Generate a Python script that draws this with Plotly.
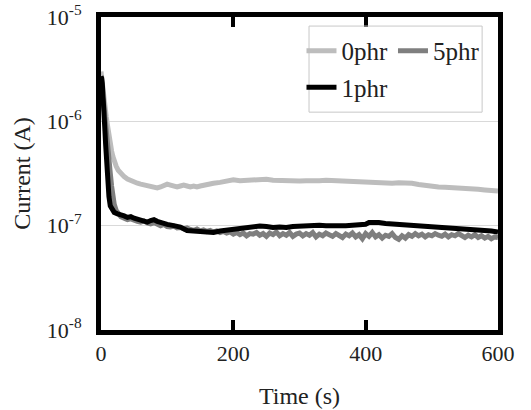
import plotly.graph_objects as go

# time axis (s)
t_0phr = [0, 1, 2, 3, 4, 5, 6, 8, 10, 12, 14, 16, 18, 20, 23, 26, 30, 35, 40, 45, 50, 55, 60, 65, 70, 75,
          80, 85, 90, 95, 100, 105, 110, 115, 120, 125, 130, 135, 140, 145, 150, 160, 170, 180, 190, 200,
          210, 220, 230, 240, 250, 260, 270, 280, 290, 300, 310, 320, 330, 340, 350, 360, 370, 380, 390,
          400, 410, 420, 430, 440, 450, 460, 470, 480, 490, 500, 510, 520, 530, 540, 550, 560, 570, 580,
          590, 600]
i_0phr = [3.0e-6, 2.6e-6, 2.1e-6, 1.8e-6, 1.6e-6, 1.45e-6, 1.3e-6, 1.1e-6, 9.0e-7, 7.0e-7, 6.0e-7, 5.2e-7,
          4.6e-7, 4.1e-7, 3.7e-7, 3.4e-7, 3.15e-7, 2.95e-7, 2.8e-7, 2.7e-7, 2.62e-7, 2.55e-7, 2.5e-7, 2.45e-7,
          2.4e-7, 2.35e-7, 2.35e-7, 2.3e-7, 2.35e-7, 2.4e-7, 2.5e-7, 2.45e-7, 2.4e-7, 2.35e-7, 2.4e-7,
          2.45e-7, 2.4e-7, 2.35e-7, 2.4e-7, 2.35e-7, 2.4e-7, 2.5e-7, 2.55e-7, 2.6e-7, 2.7e-7, 2.75e-7,
          2.7e-7, 2.72e-7, 2.75e-7, 2.7e-7, 2.78e-7, 2.72e-7, 2.7e-7, 2.72e-7, 2.7e-7, 2.68e-7, 2.7e-7,
          2.68e-7, 2.7e-7, 2.72e-7, 2.7e-7, 2.66e-7, 2.62e-7, 2.6e-7, 2.62e-7, 2.6e-7, 2.58e-7, 2.55e-7,
          2.52e-7, 2.55e-7, 2.58e-7, 2.6e-7, 2.55e-7, 2.48e-7, 2.42e-7, 2.38e-7, 2.35e-7, 2.33e-7, 2.32e-7,
          2.3e-7, 2.28e-7, 2.25e-7, 2.23e-7, 2.2e-7, 2.18e-7, 2.15e-7]

t_1phr = [0, 1, 2, 3, 4, 5, 6, 7, 8, 9, 10, 12, 14, 16, 18, 20, 25, 30, 35, 40, 45, 50, 55, 60, 65, 70, 75,
          80, 85, 90, 95, 100, 110, 120, 130, 140, 150, 160, 170, 180, 190, 200, 210, 220, 230, 240, 250,
          260, 270, 280, 290, 300, 310, 320, 330, 340, 350, 360, 370, 380, 390, 400, 405, 410, 420, 430,
          440, 450, 460, 470, 480, 490, 500, 510, 520, 530, 540, 550, 560, 570, 580, 590, 600]
i_1phr = [2.7e-6, 2.6e-6, 2.3e-6, 1.9e-6, 1.5e-6, 1.1e-6, 8e-7, 6e-7, 4.5e-7, 3.5e-7, 2.8e-7, 1.9e-7,
          1.55e-7, 1.45e-7, 1.38e-7, 1.34e-7, 1.3e-7, 1.28e-7, 1.24e-7, 1.2e-7, 1.22e-7, 1.18e-7, 1.15e-7,
          1.12e-7, 1.1e-7, 1.08e-7, 1.12e-7, 1.14e-7, 1.1e-7, 1.07e-7, 1.04e-7, 1.03e-7, 1.0e-7, 9.7e-8,
          9.0e-8, 8.8e-8, 8.8e-8, 8.7e-8, 8.6e-8, 8.9e-8, 9.1e-8, 9.2e-8, 9.3e-8, 9.5e-8, 9.8e-8, 9.9e-8,
          9.8e-8, 9.6e-8, 9.7e-8, 9.6e-8, 9.8e-8, 9.9e-8, 1.0e-7, 1.0e-7, 1.01e-7, 1.0e-7, 9.9e-8, 1.0e-7,
          1.0e-7, 1.01e-7, 1.02e-7, 1.03e-7, 1.07e-7, 1.08e-7, 1.07e-7, 1.05e-7, 1.04e-7, 1.03e-7, 1.03e-7,
          1.0e-7, 9.9e-8, 9.8e-8, 9.7e-8, 9.6e-8, 9.5e-8, 9.5e-8, 9.4e-8, 9.3e-8, 9.3e-8, 9.1e-8, 9.0e-8,
          8.9e-8, 8.7e-8]

t_5phr = [0, 2, 4, 6, 8, 10, 12, 14, 16, 18, 20, 23, 26, 30] + list(range(35, 601, 5))
i_5phr_e7 = [20.0, 18.0, 15.0, 11.0, 7.5, 5.5, 4.3, 3.2, 2.4, 1.9, 1.6, 1.4, 1.3, 1.22,
             1.18, 1.14, 1.16, 1.12, 1.10, 1.08, 1.11, 1.06, 1.04, 1.07,
             1.02, 1.00, 1.03, 0.98, 0.97, 0.99, 0.95, 0.96, 0.93, 0.95,
             0.92, 0.90, 0.93, 0.89, 0.91, 0.88, 0.90, 0.87, 0.89, 0.86,
             0.88, 0.85, 0.87, 0.83, 0.86, 0.82, 0.85, 0.80, 0.84, 0.83,
             0.86, 0.81, 0.84, 0.79, 0.85, 0.82, 0.87, 0.80, 0.84, 0.81,
             0.86, 0.79, 0.83, 0.85, 0.80, 0.84, 0.81, 0.86, 0.78, 0.83,
             0.80, 0.85, 0.82, 0.79, 0.84, 0.81, 0.77, 0.83, 0.80, 0.85,
             0.78, 0.82, 0.75, 0.84, 0.79, 0.86, 0.78, 0.82, 0.76, 0.81,
             0.79, 0.84, 0.77, 0.74, 0.80, 0.76, 0.82, 0.79, 0.84, 0.80,
             0.83, 0.78, 0.82, 0.80, 0.84, 0.81, 0.79, 0.83, 0.78, 0.82,
             0.80, 0.84, 0.79, 0.77, 0.81, 0.78, 0.82, 0.77, 0.80, 0.76,
             0.79, 0.75, 0.78, 0.77]
i_5phr = [v * 1e-7 for v in i_5phr_e7]

y_ticks = [1e-8, 1e-7, 1e-6, 1e-5]
y_labels = ["10<sup>-8</sup>", "10<sup>-7</sup>", "10<sup>-6</sup>", "10<sup>-5</sup>"]
x_ticks = [0, 200, 400, 600]

font = "Times New Roman, Liberation Serif, serif"
txt = "#222222"
title_font = dict(family=font, size=24, color=txt)

fig = go.Figure()
fig.add_trace(go.Scatter(x=t_0phr, y=i_0phr, mode="lines", name="0phr", legend="legend",
                         line=dict(color="#bdbdbd", width=5)))
fig.add_trace(go.Scatter(x=t_5phr, y=i_5phr, mode="lines", name="5phr", legend="legend",
                         line=dict(color="#7f7f7f", width=5)))
fig.add_trace(go.Scatter(x=t_1phr, y=i_1phr, mode="lines", name="1phr", legend="legend2",
                         line=dict(color="#000000", width=5)))

leg = dict(orientation="h", xanchor="left", yanchor="top", bgcolor="rgba(0,0,0,0)",
           borderwidth=0, font=dict(family=font, size=25, color=txt), itemwidth=30)

fig.update_layout(
    template="none",
    width=531, height=410,
    margin=dict(l=101, r=33, t=17, b=80),
    paper_bgcolor="white", plot_bgcolor="white",
    font=dict(family=font, size=22, color=txt),
    showlegend=True,
    legend=dict(leg, x=0.505, y=0.965),
    legend2=dict(leg, x=0.505, y=0.848),
    shapes=[dict(type="rect", xref="paper", yref="paper", x0=0.524, x1=0.96, y0=0.696, y1=0.971,
                 line=dict(color="#c8c8c8", width=1), fillcolor="rgba(0,0,0,0)")],
)
fig.update_xaxes(range=[0, 600], tickvals=x_ticks, showgrid=False, zeroline=False, automargin=False,
                 showline=True, linecolor="black", linewidth=5, mirror="allticks",
                 ticks="inside", ticklen=10, tickwidth=4, tickcolor="black",
                 tickfont=dict(family=font, size=22, color=txt),
                 title=dict(text="Time (s)", standoff=23, font=title_font))
fig.update_yaxes(type="log", range=[-8, -5], tickvals=y_ticks, ticktext=y_labels, automargin=False,
                 showgrid=True, gridcolor="#d9d9d9", gridwidth=1, zeroline=False,
                 showline=True, linecolor="black", linewidth=5, mirror=True,
                 ticks="", ticklabelstandoff=10,
                 tickfont=dict(family=font, size=22, color=txt),
                 title=dict(text="Current (A)", standoff=11, font=title_font))

fig.write_html("out.html", config={"displayModeBar": False},
               post_script="document.body.style.margin='0';")
